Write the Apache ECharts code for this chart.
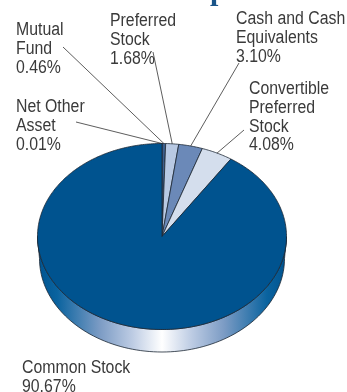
<!DOCTYPE html>
<html>
<head>
<meta charset="utf-8">
<script src="https://cdn.jsdelivr.net/npm/echarts@6/dist/echarts.min.js"></script>
<style>html,body{margin:0;padding:0;background:#fff}#main{width:347px;height:392px}</style>
</head>
<body>
<div id="main"></div>
<script>
// clockwise from 12 o'clock
var categories = ["Net Other\nAsset", "Mutual\nFund", "Preferred\nStock", "Cash and Cash\nEquivalents", "Convertible\nPreferred\nStock", "Common Stock"];
var shares = [0.01, 0.46, 1.68, 3.10, 4.08, 90.67];
var colors = ["#1c2733", "#3d5f8c", "#b8c9e3", "#6b89b8", "#d4deed", "#00538f"];

// label top-left and the outer end of its leader line
var labelPos = [[16, 98], [16, 21], [110, 12], [236, 10], [249, 80], [22, 359]];
var leaderFrom = [[76, 122], [63, 47], [153, 52], [239, 63], [244, 130], null];

var cx = 162, cy = 236.5, rx = 124.5, ry = 93, depth = 22;
var font = '18px "Liberation Sans", sans-serif';
var total = shares.reduce(function (a, b) { return a + b; }, 0);

function rimPoint(share) {
  var t = share / total * Math.PI * 2;
  return [cx + rx * Math.sin(t), cy - ry * Math.cos(t)];
}

var chart = echarts.init(document.getElementById("main"));

chart.setOption({
  animation: false,
  // what is left of the page title, cut off by the top edge
  graphic: [{
    type: "text",
    x: 210,
    y: -23,
    style: { text: "p", font: 'bold 30px "Liberation Serif", serif', fill: "#1a5488" }
  }],
  series: [
    {
      // side wall of the disc
      type: "custom",
      coordinateSystem: "none",
      silent: true,
      z: 1,
      data: [shares[5]],
      renderItem: function () {
        var pts = [], a;
        for (a = 180; a >= 0; a -= 2) {
          pts.push([cx + rx * Math.cos(a * Math.PI / 180), cy + ry * Math.sin(a * Math.PI / 180)]);
        }
        for (a = 0; a <= 180; a += 2) {
          pts.push([cx + (rx - 2) * Math.cos(a * Math.PI / 180), cy + depth + (ry + 0.5) * Math.sin(a * Math.PI / 180)]);
        }
        return {
          type: "polygon",
          shape: { points: pts },
          style: {
            stroke: "#1c2733",
            lineWidth: 0.8,
            fill: new echarts.graphic.LinearGradient(0, 0, 1, 0, [
              { offset: 0, color: "#00538f" },
              { offset: 0.08, color: "#0a639f" },
              { offset: 0.25, color: "#7b9bc4" },
              { offset: 0.38, color: "#bccbe3" },
              { offset: 0.5, color: "#ffffff" },
              { offset: 0.62, color: "#bccbe3" },
              { offset: 0.75, color: "#7b9bc4" },
              { offset: 0.92, color: "#0a639f" },
              { offset: 1, color: "#00538f" }
            ])
          }
        };
      }
    },
    {
      type: "custom",
      coordinateSystem: "none",
      silent: true,
      z: 2,
      data: shares,
      renderItem: function (params, api) {
        var i = params.dataIndex;
        var start = 0;
        for (var k = 0; k < i; k++) start += shares[k];
        var end = start + api.value(0);
        var pts = [[cx, cy]];
        var steps = Math.max(2, Math.ceil(end - start) * 4);
        for (var s = 0; s <= steps; s++) {
          pts.push(rimPoint(start + (end - start) * s / steps));
        }
        var children = [{
          type: "polygon",
          shape: { points: pts },
          style: { fill: colors[i], stroke: "#1c2733", lineWidth: 0.8 }
        }];
        if (leaderFrom[i]) {
          var rim = rimPoint((start + end) / 2);
          children.push({
            type: "line",
            shape: { x1: leaderFrom[i][0], y1: leaderFrom[i][1], x2: rim[0], y2: rim[1] },
            style: { stroke: "#333333", lineWidth: 0.8 }
          });
        }
        children.push({
          type: "text",
          x: labelPos[i][0],
          y: labelPos[i][1],
          scaleX: 0.88,
          style: {
            text: categories[i] + "\n" + api.value(0).toFixed(2) + "%",
            font: font,
            lineHeight: 18.7,
            fill: "#3a3a3a"
          }
        });
        return { type: "group", children: children };
      }
    }
  ]
});
</script>
</body>
</html>
